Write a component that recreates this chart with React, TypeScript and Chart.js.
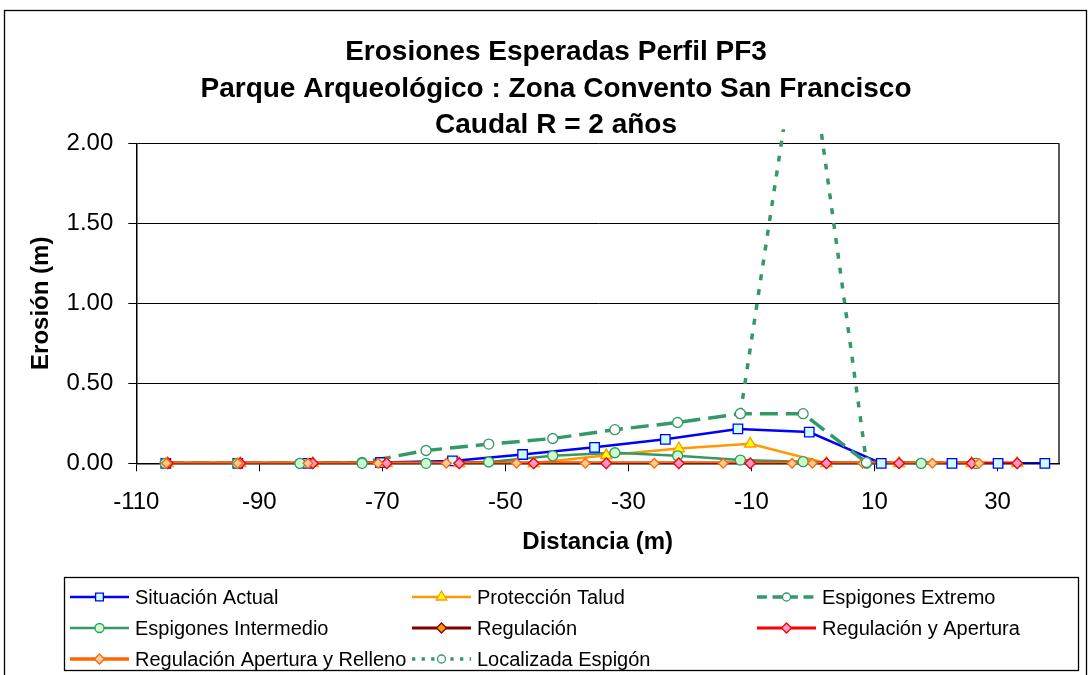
import React, { useEffect, useRef } from 'react';
import { Chart, registerables } from 'chart.js';

Chart.register(...registerables);

const FONT = '"Liberation Sans", Arial, Helvetica, sans-serif';

// ---- Text ----
const titleLines = [
  'Erosiones Esperadas Perfil PF3',
  'Parque Arqueológico : Zona Convento San Francisco',
  'Caudal R = 2 años',
];
const xAxisTitle = 'Distancia (m)';
const yAxisTitle = 'Erosión (m)';

// ---- Ticks ----
const xTickValues = [-110, -90, -70, -50, -30, -10, 10, 30];
const yTickValues = [0, 0.5, 1, 1.5, 2];

// ---- Data ----
const xActual = [-105.2, -93.5, -82.1, -70.3, -58.6, -47.2, -35.5, -24.0, -12.2, -0.6, 11.1, 22.6, 30.1, 37.7];
const yActual = [0, 0, 0, 0.005, 0.015, 0.055, 0.1, 0.15, 0.215, 0.195, 0, 0, 0, 0];

// shared positions: Protección Talud, Regulación, Regulación y Apertura
const xTalud = [-104.9, -93.1, -81.3, -69.3, -57.5, -45.4, -33.6, -21.8, -10.2, 2.2, 14.0, 25.8, 33.2];
const yTalud = [0, 0, 0, 0, 0, 0, 0.05, 0.092, 0.122, 0, 0, 0, 0];
const yRegulacion = [0, 0, 0, 0, 0, 0, 0, 0, 0, 0, 0, 0, 0];
const yApertura = [0, 0, 0, 0, 0, 0, 0, 0, 0, 0, 0, 0, 0];

// shared positions: Espigones Extremo / Intermedio
const xEspigones = [-105.3, -93.6, -83.4, -73.3, -62.9, -52.7, -42.3, -32.2, -22.0, -11.8, -1.6, 8.7, 17.6, 26.5];
const yExtremo = [0, 0, 0, 0.005, 0.08, 0.12, 0.155, 0.21, 0.255, 0.31, 0.31, 0.005, 0, 0];
const yIntermedio = [0, 0, 0, 0, 0, 0.008, 0.047, 0.066, 0.047, 0.02, 0.01, 0, 0, 0];

const xRelleno = [-105.1, -93.5, -82.1, -70.7, -59.6, -48.2, -37.0, -25.8, -14.6, -3.4, -0.1, 8.1, 19.4, 27.0];
const yRelleno = [0, 0, 0, 0, 0, 0, 0, 0, 0, 0, 0, 0, 0, 0];

const xLocalizada = [-11.8, -1.6, 8.7];
const yLocalizada = [0.31, 2.9, 0.005];

// ---- Series styles ----
type Shape = 'rect' | 'triangle' | 'circle' | 'rectRot';
interface Serie {
  label: string;
  xs: number[];
  ys: number[];
  line: string;
  fill: string;
  stroke: string;
  shape: Shape;
  r: number;
  lr: number;
  lw: number;
  dash: number[];
  clip?: any;
}

const series: Serie[] = [
  { label: 'Situación Actual', xs: xActual, ys: yActual, line: '#0000FF', fill: '#CCFFFF', stroke: '#0000FF', shape: 'rect', r: 6.7, lr: 5.5, lw: 2.5, dash: [] },
  { label: 'Protección Talud', xs: xTalud, ys: yTalud, line: '#FF9900', fill: '#FFFF00', stroke: '#FF9900', shape: 'triangle', r: 6.4, lr: 6, lw: 2.5, dash: [] },
  { label: 'Espigones Extremo', xs: xEspigones, ys: yExtremo, line: '#339966', fill: '#FFFFFF', stroke: '#339966', shape: 'circle', r: 5, lr: 4, lw: 3.5, dash: [18, 8] },
  { label: 'Espigones Intermedio', xs: xEspigones, ys: yIntermedio, line: '#339966', fill: '#CCFFCC', stroke: '#339966', shape: 'circle', r: 5, lr: 4.5, lw: 2.5, dash: [] },
  { label: 'Regulación', xs: xTalud, ys: yRegulacion, line: '#800000', fill: '#FF9900', stroke: '#800000', shape: 'rectRot', r: 5, lr: 5, lw: 3, dash: [] },
  { label: 'Regulación y Apertura', xs: xTalud, ys: yApertura, line: '#FF0000', fill: '#FF99CC', stroke: '#FF0000', shape: 'rectRot', r: 5.3, lr: 5, lw: 3, dash: [] },
  { label: 'Regulación Apertura y Relleno', xs: xRelleno, ys: yRelleno, line: '#FF6600', fill: '#FFCC99', stroke: '#FF6600', shape: 'rectRot', r: 4.8, lr: 5, lw: 3.5, dash: [] },
  { label: 'Localizada Espigón', xs: xLocalizada, ys: yLocalizada, line: '#339966', fill: '#FFFFFF', stroke: '#339966', shape: 'circle', r: 5, lr: 4, lw: 3.5, dash: [6, 9], clip: { left: 0, top: 14, right: 0, bottom: 6 } },
];

// legend layout
const legendCols = [70, 412, 757];
const legendRows = [597, 628, 659];

function drawMarker(ctx: CanvasRenderingContext2D, shape: Shape, x: number, y: number, r: number, fill: string, stroke: string) {
  ctx.beginPath();
  if (shape === 'rect') {
    const s = r * Math.SQRT1_2;
    ctx.rect(x - s, y - s, 2 * s, 2 * s);
  } else if (shape === 'circle') {
    ctx.arc(x, y, r, 0, Math.PI * 2);
  } else if (shape === 'rectRot') {
    ctx.moveTo(x, y - r);
    ctx.lineTo(x + r, y);
    ctx.lineTo(x, y + r);
    ctx.lineTo(x - r, y);
    ctx.closePath();
  } else {
    ctx.moveTo(x, y - r);
    ctx.lineTo(x + r * 0.866, y + r / 2);
    ctx.lineTo(x - r * 0.866, y + r / 2);
    ctx.closePath();
  }
  ctx.fillStyle = fill;
  ctx.fill();
  ctx.setLineDash([]);
  ctx.lineWidth = 1.3;
  ctx.strokeStyle = stroke;
  ctx.stroke();
}

const framePlugin = {
  id: 'excelFrame',
  beforeDraw(chart: any) {
    const ctx: CanvasRenderingContext2D = chart.ctx;
    ctx.save();
    ctx.fillStyle = '#FFFFFF';
    ctx.fillRect(0, 0, chart.width, chart.height);
    ctx.strokeStyle = '#000';
    ctx.lineWidth = 1.3;
    ctx.strokeRect(4.5, 10.5, 1082, 700);
    ctx.restore();
  },
  afterDraw(chart: any) {
    const ctx: CanvasRenderingContext2D = chart.ctx;
    const a = chart.chartArea;
    ctx.save();
    // plot-area right border
    ctx.strokeStyle = '#000';
    ctx.lineWidth = 1.3;
    ctx.beginPath();
    ctx.moveTo(a.right, a.top);
    ctx.lineTo(a.right, a.bottom);
    ctx.stroke();

    // title
    ctx.fillStyle = '#000';
    ctx.font = `bold 28px ${FONT}`;
    ctx.textAlign = 'center';
    ctx.textBaseline = 'alphabetic';
    const baselines = [60, 97, 133];
    titleLines.forEach((t, i) => ctx.fillText(t, 556, baselines[i]));

    // legend box
    ctx.lineWidth = 1.3;
    ctx.strokeStyle = '#000';
    ctx.strokeRect(64.5, 577.5, 1014, 93);

    ctx.font = `20px ${FONT}`;
    ctx.textAlign = 'left';
    series.forEach((s, i) => {
      const col = i % 3;
      const row = Math.floor(i / 3);
      const x0 = legendCols[col];
      const y = legendRows[row];
      ctx.beginPath();
      ctx.setLineDash(s.dash.length ? [s.dash[0] * 0.55, s.dash[1] * 0.7] : []);
      ctx.strokeStyle = s.line;
      ctx.lineWidth = s.lw;
      ctx.moveTo(x0, y);
      ctx.lineTo(x0 + 59, y);
      ctx.stroke();
      drawMarker(ctx, s.shape, x0 + 29.5, y, s.lr, s.fill, s.stroke);
      ctx.fillStyle = '#000';
      ctx.fillText(s.label, x0 + 65, y + 7);
    });
    ctx.restore();
  },
};

export default function App() {
  const ref = useRef<HTMLCanvasElement | null>(null);

  useEffect(() => {
    if (!ref.current) return;
    const datasets: any[] = [];
    series.forEach((s, i) => {
      const pts = s.xs.map((x, j) => ({ x, y: s.ys[j] }));
      datasets.push({
        label: s.label,
        data: pts,
        showLine: true,
        borderColor: s.line,
        borderWidth: s.lw,
        borderDash: s.dash,
        pointRadius: 0,
        pointHoverRadius: 0,
        fill: false,
        tension: 0,
        order: 100 - i,
        ...(s.clip ? { clip: s.clip } : {}),
      });
      datasets.push({
        label: s.label + ' marcadores',
        data: pts,
        showLine: false,
        pointStyle: s.shape,
        pointRadius: s.r,
        pointHoverRadius: s.r,
        pointBackgroundColor: s.fill,
        pointBorderColor: s.stroke,
        pointBorderWidth: 1.3,
        clip: false,
        order: 50 - i,
      });
    });

    const chart = new Chart(ref.current, {
      type: 'scatter',
      data: { datasets },
      options: {
        animation: false,
        responsive: false,
        maintainAspectRatio: false,
        devicePixelRatio: 1,
        events: [],
        layout: { padding: { left: 0, top: 143.3, right: 31, bottom: 111.7 } },
        plugins: {
          legend: { display: false },
          title: { display: false },
          tooltip: { enabled: false },
        },
        scales: {
          x: {
            type: 'linear',
            min: -110,
            max: 40,
            afterBuildTicks: (scale: any) => {
              scale.ticks = xTickValues.map((v) => ({ value: v }));
            },
            afterFit: (scale: any) => {
              scale.height = 100;
            },
            grid: { drawOnChartArea: false, drawTicks: true, tickLength: 8, color: '#000', lineWidth: 1 },
            border: { color: '#000', width: 1.5 },
            ticks: {
              autoSkip: false,
              maxRotation: 0,
              minRotation: 0,
              padding: 17,
              color: '#000',
              font: { family: FONT, size: 24 },
              callback: (v: any) => String(v),
            },
            title: {
              display: true,
              text: xAxisTitle,
              color: '#000',
              font: { family: FONT, size: 24, weight: 'bold' },
              padding: { top: 0, bottom: 6.7 },
            },
          },
          y: {
            type: 'linear',
            min: 0,
            max: 2,
            afterBuildTicks: (scale: any) => {
              scale.ticks = yTickValues.map((v) => ({ value: v }));
            },
            afterFit: (scale: any) => {
              scale.width = 136.3;
            },
            grid: { color: '#000', lineWidth: 1, tickLength: 8, drawTicks: true },
            border: { color: '#000', width: 1.5 },
            ticks: {
              padding: 15,
              color: '#000',
              font: { family: FONT, size: 24 },
              callback: (v: any) => Number(v).toFixed(2),
            },
            title: {
              display: true,
              text: yAxisTitle,
              color: '#000',
              font: { family: FONT, size: 24, weight: 'bold' },
              padding: { top: 27, bottom: 0 },
            },
          },
        },
      } as any,
      plugins: [framePlugin],
    });
    return () => chart.destroy();
  }, []);

  return (
    <div style={{ position: 'absolute', left: 0, top: 0, width: 1090, height: 675, background: '#fff' }}>
      <canvas ref={ref} width={1090} height={675} style={{ display: 'block', width: 1090, height: 675 }} />
    </div>
  );
}
